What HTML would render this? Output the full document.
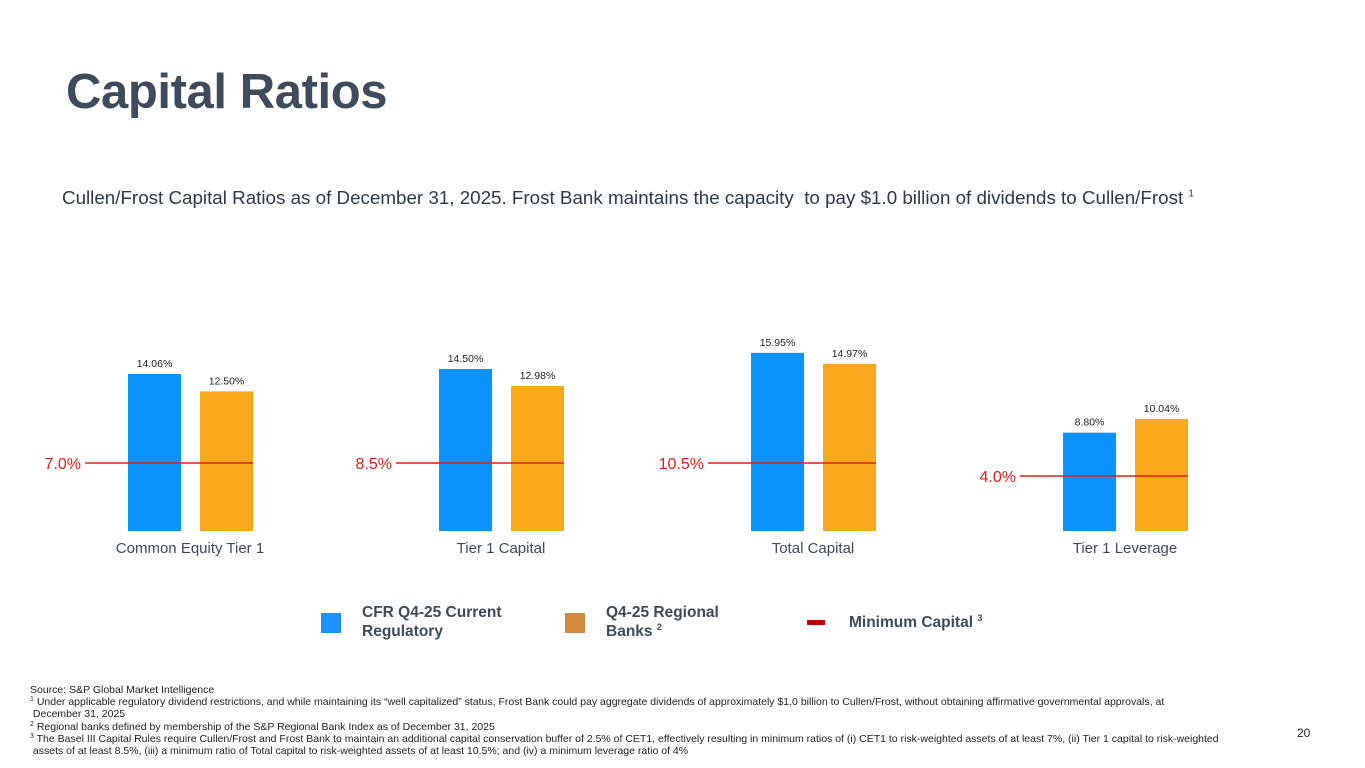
<!DOCTYPE html>
<html><head><meta charset="utf-8"><style>
body{margin:0;width:1365px;height:768px;background:#fff;font-family:"Liberation Sans",sans-serif;position:relative;overflow:hidden;color:#3D4B5C}
.abs{position:absolute}
.fn{position:absolute;left:30px;font-size:10.5px;color:#222;line-height:12.2px;white-space:nowrap}
.fn sup{font-size:7px;line-height:0;vertical-align:4px}
.leg{position:absolute;font-size:15.5px;font-weight:bold;color:#3D4B5C;line-height:19px}
</style></head><body>
<div class="abs" style="left:66px;top:64px;font-size:49px;font-weight:bold;letter-spacing:-0.4px">Capital Ratios</div>
<div class="abs" style="left:62px;top:187px;font-size:18.8px;color:#2d3a4a;white-space:nowrap">Cullen/Frost Capital Ratios as of December 31, 2025. Frost Bank maintains the capacity&nbsp; to pay $1.0 billion of dividends to Cullen/Frost <sup style="font-size:10px">1</sup></div>
<svg id="chart" class="abs" style="left:0;top:0" width="1365" height="600"></svg>
<div class="abs" style="left:321px;top:613px;width:20px;height:20px;background:#1E90FF"></div>
<div class="leg" style="left:362px;top:603px">CFR Q4-25 Current<br>Regulatory</div>
<div class="abs" style="left:565px;top:613px;width:20px;height:20px;background:#D08A3C"></div>
<div class="leg" style="left:606px;top:603px">Q4-25 Regional<br>Banks <sup style="font-size:9px;line-height:0">2</sup></div>
<div class="abs" style="left:807px;top:620px;width:18px;height:5px;background:#C00000"></div>
<div class="leg" style="left:849px;top:613px">Minimum Capital <sup style="font-size:9px;line-height:0">3</sup></div>
<div class="fn" style="top:684px">Source: S&amp;P Global Market Intelligence<br><sup>1</sup> Under applicable regulatory dividend restrictions, and while maintaining its “well capitalized” status, Frost Bank could pay aggregate dividends of approximately $1.0 billion to Cullen/Frost, without obtaining affirmative governmental approvals, at<br>&nbsp;December 31, 2025<br><sup>2</sup> Regional banks defined by membership of the S&amp;P Regional Bank Index as of December 31, 2025<br><sup>3</sup> The Basel III Capital Rules require Cullen/Frost and Frost Bank to maintain an additional capital conservation buffer of 2.5% of CET1, effectively resulting in minimum ratios of (i) CET1 to risk-weighted assets of at least 7%, (ii) Tier 1 capital to risk-weighted<br>&nbsp;assets of at least 8.5%, (iii) a minimum ratio of Total capital to risk-weighted assets of at least 10.5%; and (iv) a minimum leverage ratio of 4%</div>
<div class="abs" style="left:1297px;top:726px;font-size:12px;color:#222">20</div>
<script>
const categories=["Common Equity Tier 1","Tier 1 Capital","Total Capital","Tier 1 Leverage"];
const cfrValues=[14.06,14.50,15.95,8.80];
const regionalValues=[12.50,12.98,14.97,10.04];
const minimumValues=[7.0,8.5,10.5,4.0];
const minimumLabels=["7.0%","8.5%","10.5%","4.0%"];
const svg=document.getElementById('chart');
const NS='http://www.w3.org/2000/svg';
const base=531,pxPer=11.17,barW=53;
const groupX=[128,439,751,1063];
function y(v){return base-v*pxPer;}
function minY(i){return minimumValues[i]>=7?463:476;}
function mk(tag,attrs){const e=document.createElementNS(NS,tag);for(const k in attrs)e.setAttribute(k,attrs[k]);svg.appendChild(e);return e;}
categories.forEach((c,i)=>{
  const x0=groupX[i],x1=x0+72;
  const b1=mk('rect',{x:x0,y:y(cfrValues[i]),width:barW,height:cfrValues[i]*pxPer,fill:'#0A93FC'});
  
  
  const b2=mk('rect',{x:x1,y:y(regionalValues[i]),width:barW,height:regionalValues[i]*pxPer,fill:'#F9A81B'});
  
  
  const t1=mk('text',{x:x0+barW/2,y:y(cfrValues[i])-7,'text-anchor':'middle','font-size':'10.5',fill:'#222'});
  t1.textContent=cfrValues[i].toFixed(2)+'%';
  
  
  const t2=mk('text',{x:x1+barW/2,y:y(regionalValues[i])-7,'text-anchor':'middle','font-size':'10.5',fill:'#222'});
  t2.textContent=regionalValues[i].toFixed(2)+'%';
  
  
  const ly=minY(i);
  const ln=mk('line',{x1:x0-43,x2:x1+barW,y1:ly,y2:ly,stroke:'#E0201A','stroke-width':1.5});
  
  
  const ml=mk('text',{x:x0-47,y:ly+6,'text-anchor':'end','font-size':'16',fill:'#E0201A'});
  ml.textContent=minimumLabels[i];
  
  
  const cl=mk('text',{x:x0+62,y:553,'text-anchor':'middle','font-size':'15',fill:'#3D4B5C'});
  cl.textContent=c;
  
  
});
</script>
</body></html>
